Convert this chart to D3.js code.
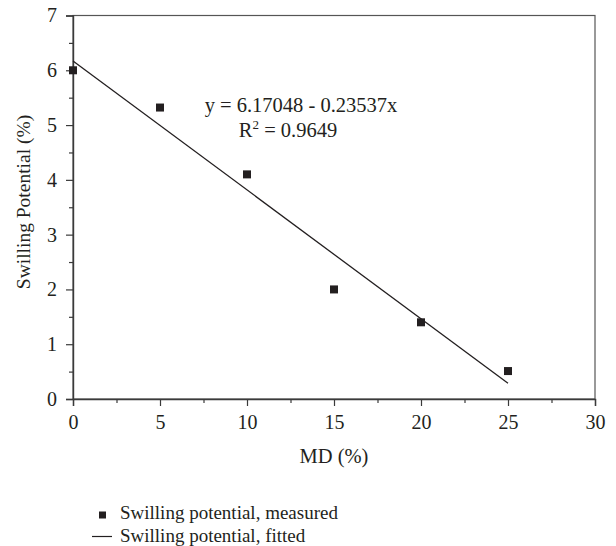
<!DOCTYPE html>
<html>
<head>
<meta charset="utf-8">
<script src="https://cdn.jsdelivr.net/npm/d3@7"></script>
<style>
  body { margin: 0; background: #fff; }
  svg text { font-family: "Liberation Serif", "DejaVu Serif", serif; fill: #231f20; }
</style>
</head>
<body>
<svg></svg>
<script>
var width = 616,
    height = 546;

// measured swelling potential against MD content
var mdValues = [0, 5, 10, 15, 20, 25];
var swellValues = [6.0, 5.32, 4.1, 2.0, 1.4, 0.51];

// linear fit y = a + b x
var fitIntercept = 6.17048,
    fitSlope = -0.23537;
var fitRange = [0, 25];

var xTicks = [0, 5, 10, 15, 20, 25, 30];
var yTicks = [0, 1, 2, 3, 4, 5, 6, 7];

var margin = {left: 73, right: 21, top: 15.5, bottom: 147};

var svg = d3.select("svg")
    .attr("width", width)
    .attr("height", height);

var x = d3.scaleLinear().domain([0, 30]).range([margin.left, width - margin.right]);
var y = d3.scaleLinear().domain([0, 7]).range([height - margin.bottom, margin.top]);

var axisColor = "#3a3a3a";

// frame
svg.append("rect")
    .attr("x", x(0))
    .attr("y", y(7))
    .attr("width", x(30) - x(0))
    .attr("height", y(0) - y(7))
    .attr("fill", "none")
    .attr("stroke", "#555")
    .attr("stroke-width", 1.2);

// x axis, major + minor ticks
svg.append("g")
    .attr("transform", "translate(0," + y(0) + ")")
    .call(d3.axisBottom(x).tickValues(xTicks).tickSize(7).tickPadding(9).tickFormat(d3.format("d")));
svg.append("g")
    .attr("transform", "translate(0," + y(0) + ")")
    .call(d3.axisBottom(x).tickValues(d3.range(2.5, 30, 5)).tickSize(4).tickFormat(""))
    .select(".domain").remove();

// y axis, major + minor ticks
svg.append("g")
    .attr("transform", "translate(" + x(0) + ",0)")
    .call(d3.axisLeft(y).tickValues(yTicks).tickSize(7).tickPadding(9).tickFormat(d3.format("d")));
svg.append("g")
    .attr("transform", "translate(" + x(0) + ",0)")
    .call(d3.axisLeft(y).tickValues(d3.range(0.5, 7, 1)).tickSize(4).tickFormat(""))
    .select(".domain").remove();

svg.selectAll(".domain").attr("stroke", axisColor).attr("stroke-width", 1.4);
svg.selectAll(".tick line").attr("stroke", axisColor).attr("stroke-width", 1.2);
svg.selectAll(".tick text")
    .attr("font-size", 20)
    .attr("font-family", "Liberation Serif, serif")
    .attr("fill", "#231f20");

// axis titles
svg.append("text")
    .attr("x", x(15))
    .attr("y", 463)
    .attr("text-anchor", "middle")
    .attr("font-size", 20.5)
    .text("MD (%)");

svg.append("text")
    .attr("transform", "translate(30,202) rotate(-90)")
    .attr("text-anchor", "middle")
    .attr("font-size", 19.5)
    .text("Swilling Potential (%)");

// fitted line
svg.append("line")
    .attr("x1", x(fitRange[0]))
    .attr("y1", y(fitIntercept + fitSlope * fitRange[0]))
    .attr("x2", x(fitRange[1]))
    .attr("y2", y(fitIntercept + fitSlope * fitRange[1]))
    .attr("stroke", "#231f20")
    .attr("stroke-width", 1.3);

// measured points
var sq = 8;
svg.selectAll(".pt")
    .data(mdValues)
    .enter()
    .append("rect")
    .attr("class", "pt")
    .attr("x", function(d) { return x(d) - sq / 2; })
    .attr("y", function(d, i) { return y(swellValues[i]) - sq / 2; })
    .attr("width", sq)
    .attr("height", sq)
    .attr("fill", "#231f20");

// regression equation
svg.append("text")
    .attr("x", 301)
    .attr("y", 112)
    .attr("text-anchor", "middle")
    .attr("font-size", 20.5)
    .text("y = " + fitIntercept.toFixed(5) + " - " + Math.abs(fitSlope).toFixed(5) + "x");

var r2 = svg.append("text")
    .attr("x", 288)
    .attr("y", 137)
    .attr("text-anchor", "middle")
    .attr("font-size", 20.5);
r2.append("tspan").text("R");
r2.append("tspan").attr("dy", -8).attr("font-size", 13).text("2");
r2.append("tspan").attr("dy", 8).text(" = 0.9649");

// legend
var legend = svg.append("g");
legend.append("rect")
    .attr("x", 99)
    .attr("y", 511.5)
    .attr("width", 7)
    .attr("height", 7)
    .attr("fill", "#231f20");
legend.append("text")
    .attr("x", 120)
    .attr("y", 519)
    .attr("font-size", 19)
    .text("Swilling potential, measured");
legend.append("line")
    .attr("x1", 92)
    .attr("x2", 112)
    .attr("y1", 536.5)
    .attr("y2", 536.5)
    .attr("stroke", "#231f20")
    .attr("stroke-width", 1.2);
legend.append("text")
    .attr("x", 120)
    .attr("y", 541.5)
    .attr("font-size", 19)
    .text("Swilling potential, fitted");
</script>
</body>
</html>
